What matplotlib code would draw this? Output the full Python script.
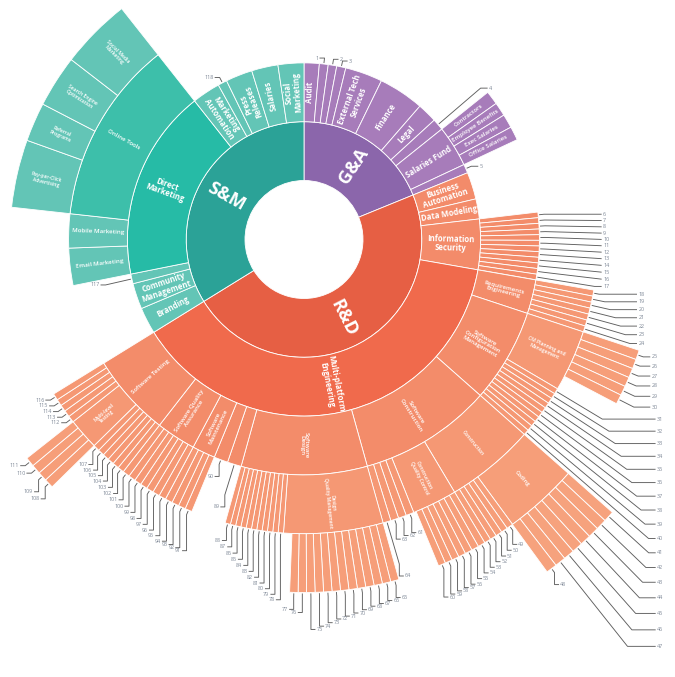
import numpy as np
import matplotlib.pyplot as plt
from matplotlib.patches import Wedge

plt.rcParams['font.family'] = ['Open Sans', 'DejaVu Sans']

# ---- values (angular share, whole circle = 360) ----
top_names = ['G&A', 'R&D', 'S&M']
top_values = [67.8, 170.5, 121.7]

ga_names = ['Audit', '1', '2', '3', 'External Tech\nServices', 'Finance', 'Legal', '4', 'Salaries Fund', '5']
ga_values = [5.0, 2.9, 2.8, 3.0, 12.3, 15.0, 6.5, 3.8, 13.6, 2.9]
salfund_names = ['Contractors', 'Employee Benefits', 'Exec Salaries', 'Office Salaries']
salfund_values = [3.4, 3.4, 3.4, 3.4]

rd_names = ['Business\nAutomation', 'Data Modeling', 'Information\nSecurity', 'Multi-platform\nEngineering']
rd_values = [8.9, 6.6, 16.6, 138.4]
infosec_names = ['6', '7', '8', '9', '10', '11', '12', '13', '14', '15', '16', '17']
infosec_values = [1.38, 1.38, 1.38, 1.38, 1.38, 1.38, 1.38, 1.38, 1.38, 1.38, 1.38, 1.38]

mpe_names = ['Requirements\nEngineering', 'Software\nConfiguration\nManagement', 'Software\nConstruction',
             'Software\nDesign', '89', '90', 'Software\nMaintenance', 'Software Quality\nAssurance',
             'Software Testing']
mpe_values = [8.4, 23.2, 32.9, 31.1, 3.45, 3.45, 5.7, 9.8, 20.4]
reqeng_names = ['18', '19', '20', '21', '22', '23', '24']
reqeng_values = [1.2, 1.2, 1.2, 1.2, 1.2, 1.2, 1.2]

scm_names = ['CM Planning and\nManagement', '31', '32', '33', '34', '35', '36', '37', '38', '39', '40']
scm_values = [12.2, 1.1, 1.1, 1.1, 1.1, 1.1, 1.1, 1.1, 1.1, 1.1, 1.1]
cmplan_names = ['25', '26', '27', '28', '29', '30']
cmplan_values = [1.57, 1.57, 1.57, 1.57, 1.57, 1.57]

swcons_names = ['Construction', 'Construction\nQuality Control', '61', '62', '63', '64']
swcons_values = [17.7, 8.9, 1.58, 1.58, 1.58, 1.58]
cons_names = ['Coding', '49', '50', '51', '52', '53']
cons_values = [12.3, 1.08, 1.08, 1.08, 1.08, 1.08]
coding_names = ['41', '42', '43', '44', '45', '46', '47', '48']
coding_values = [1.54, 1.54, 1.54, 1.54, 1.54, 1.54, 1.54, 1.54]
cqc_names = ['54', '55', '56', '57', '58', '59', '60']
cqc_values = [1.2, 1.2, 1.2, 1.2, 1.2, 1.2, 1.2]

design_names = ['Design\nQuality Management', '78', '79', '80', '81', '82', '83', '84', '85', '86', '87', '88']
design_values = [19.6, 1.05, 1.05, 1.05, 1.05, 1.05, 1.05, 1.05, 1.05, 1.05, 1.05, 1.05]
dqm_names = ['65', '66', '67', '68', '69', '70', '71', '72', '73', '74', '75', '76', '77']
dqm_values = [1.38, 1.38, 1.38, 1.38, 1.38, 1.38, 1.38, 1.38, 1.38, 1.38, 1.38, 1.38, 1.38]

maint_names = ['91', '92', '93', '94']
maint_values = [1.42, 1.42, 1.42, 1.42]
sqa_names = ['95', '96', '97', '98', '99', '100', '101']
sqa_values = [1.4, 1.4, 1.4, 1.4, 1.4, 1.4, 1.4]
testing_names = ['102', '103', '104', '105', '106', '107', 'Multi-level\nTesting', '112', '113', '114', '115', '116']
testing_values = [1.27, 1.27, 1.27, 1.27, 1.27, 1.27, 6.2, 1.32, 1.32, 1.32, 1.32, 1.32]
mlt_names = ['108', '109', '110', '111']
mlt_values = [1.55, 1.55, 1.55, 1.55]

sm_names = ['Branding', 'Community\nManagement', '117', 'Direct\nMarketing', 'Marketing\nAutomation', '118',
            'Press\nReleases', 'Salaries', 'Social\nMarketing']
sm_values = [8.7, 8.5, 3.2, 63.0, 9.3, 3.0, 8.8, 8.7, 8.5]
dm_names = ['Email Marketing', 'Mobile Marketing', 'Online Tools']
dm_values = [9.2, 8.4, 45.4]
online_names = ['Pay-per-Click\nAdvertising', 'Referral\nPrograms', 'Search Engine\nOptimization', 'Social Media\nMarketing']
online_values = [13.4, 7.7, 10.3, 14.0]

tree = {
    'root': (top_names, top_values),
    'G&A': (ga_names, ga_values),
    'Salaries Fund': (salfund_names, salfund_values),
    'R&D': (rd_names, rd_values),
    'Information\nSecurity': (infosec_names, infosec_values),
    'Multi-platform\nEngineering': (mpe_names, mpe_values),
    'Requirements\nEngineering': (reqeng_names, reqeng_values),
    'Software\nConfiguration\nManagement': (scm_names, scm_values),
    'CM Planning and\nManagement': (cmplan_names, cmplan_values),
    'Software\nConstruction': (swcons_names, swcons_values),
    'Construction': (cons_names, cons_values),
    'Coding': (coding_names, coding_values),
    'Construction\nQuality Control': (cqc_names, cqc_values),
    'Software\nDesign': (design_names, design_values),
    'Design\nQuality Management': (dqm_names, dqm_values),
    'Software\nMaintenance': (maint_names, maint_values),
    'Software Quality\nAssurance': (sqa_names, sqa_values),
    'Software Testing': (testing_names, testing_values),
    'Multi-level\nTesting': (mlt_names, mlt_values),
    'S&M': (sm_names, sm_values),
    'Direct\nMarketing': (dm_names, dm_values),
    'Online Tools': (online_names, online_values),
}

# ---- geometry ----
CX, CY = 304, 677 - 239.5
R0, W = 59, 58.8
DEG = 360.0 / sum(top_values)

segs = []  # name, depth, t1, t2, top


def layout(parent, start, depth, top):
    names, values = tree[parent]
    a = start
    for n, v in zip(names, values):
        span = v * DEG
        t = n if depth == 1 else top
        segs.append((n, depth, a - span, a, t))
        if n in tree:
            layout(n, a, depth + 1, t)
        a -= span


layout('root', 90.0, 1, None)


def seg_color(top, depth, name):
    if top == 'G&A':
        return '#8B66AB' if depth == 1 else '#A77CBA'
    if top == 'S&M':
        if depth == 1:
            return '#2BA297'
        if name == 'Direct\nMarketing':
            return '#26BBA6'
        if name == 'Online Tools':
            return '#3DBFAA'
        return '#63C5B6'
    if depth == 1:
        return '#E65F44'
    if name == 'Multi-platform\nEngineering':
        return '#F06A4C'
    return {2: '#F38B6A', 3: '#F38C6A', 4: '#F59874', 5: '#F69E79', 6: '#F6A27D'}[depth]


def text_rot(theta):
    t = theta % 360
    if 115 < t < 268:
        return t - 180
    return t if t <= 180 else t - 360


fig = plt.figure(figsize=(6.75, 6.77), dpi=100)
ax = fig.add_axes([0, 0, 1, 1])
ax.set_xlim(0, 675)
ax.set_ylim(0, 677)
ax.axis('off')

fsize = {1: 13, 2: 5.6, 3: 4.4, 4: 3.6, 5: 4.2}
for name, d, t1, t2, top in segs:
    r_out = R0 + d * W
    ax.add_patch(Wedge((CX, CY), r_out, t1, t2, width=W, facecolor=seg_color(top, d, name),
                       edgecolor='white', linewidth=0.6))
    if not name.isdigit():
        mid = np.radians((t1 + t2) / 2)
        rm = r_out - W / 2
        ax.text(CX + rm * np.cos(mid), CY + rm * np.sin(mid), name, color='white',
                fontsize=fsize[d], fontweight='bold' if d <= 2 else 'semibold',
                rotation=text_rot((t1 + t2) / 2), rotation_mode='anchor',
                ha='center', va='center', linespacing=1.0)

# ---- leader lines for the numbered slices ----
LINE_C, NUM_C, FS_NUM, TH = '#5E5E5E', '#7D8796', 3.9, 5.4


def occupied(phi):
    best = R0
    for name, d, t1, t2, top in segs:
        if (phi - t1) % 360 <= (t2 - t1):
            best = max(best, R0 + d * W)
    return best


def inside(x, y, pad=1.5):
    return np.hypot(x - CX, y - CY) < occupied(np.degrees(np.arctan2(y - CY, x - CX))) + pad


def wedge_free(box):
    pts = [(box[0], box[1]), (box[0], box[3]), (box[2], box[1]), (box[2], box[3]),
           ((box[0] + box[2]) / 2, (box[1] + box[3]) / 2)]
    return not any(inside(x, y, 2) for x, y in pts)


def overlap(a, b):
    return not (a[2] < b[0] or a[0] > b[2] or a[3] < b[1] or a[1] > b[3])


def tw(s):
    return 2.8 * len(s) + 1.0


def draw_leader(xs, ys, name, lx, ly, ha):
    ax.plot(xs, ys, color=LINE_C, linewidth=0.65, solid_capstyle='butt')
    ax.text(lx, ly, name, fontsize=FS_NUM, color=NUM_C, ha=ha, va='center')


leaves = []
for name, d, t1, t2, top in segs:
    if name.isdigit():
        mid = (t1 + t2) / 2
        leaves.append(dict(name=name, d=d, t1=t1, t2=t2, mid=mid, ro=R0 + d * W,
                           c=np.cos(np.radians(mid)), s=np.sin(np.radians(mid))))
leaves.sort(key=lambda L: (90 - L['mid']) % 360)


def mode_of(L):
    m = L['mid'] % 360
    if m >= 307.5 or m < 60:
        return 'col'
    if 222 <= m < 307.5:
        return 'drop'
    return 'tick'


# clusters: adjacent slices of the same ring and the same label mode
clusters = []
for L in leaves:
    L['mode'] = mode_of(L)
    if clusters:
        P = clusters[-1][-1]
        if P['mode'] == L['mode'] and P['d'] == L['d'] and abs(P['t1'] - L['t2']) < 0.3:
            clusters[-1].append(L)
            continue
    clusters.append([L])

placed = []
prev_y, prev_col, prev_last = None, None, None
for cl in clusters:
    mode = cl[0]['mode']
    if mode == 'col':
        pts = []
        for L in cl:
            c, s, ro = L['c'], L['s'], L['ro']
            gap = 6.3 + 14 * max(0.0, -s) ** 1.5   # labels spread more further down
            ext = 6
            while True:
                ex, ey = CX + (ro + ext) * c, CY + (ro + ext) * s
                ly = ey
                if prev_y is not None and ly > prev_y - gap:
                    if s < -0.15 and ext < 260:
                        ext += 1.0
                        continue
                    ly = prev_y - gap
                box = (ex + 7, ly - TH / 2, ex + 7 + tw(L['name']), ly + TH / 2)
                if wedge_free(box) or ext > 260:
                    break
                ext += 2
            pts.append((L, ex, ey, ly))
            prev_y = ly
        col = max(p[1] for p in pts) + 7
        if prev_col is not None and prev_last - pts[0][3] < 25:
            col = max(col, prev_col)
        for L, ex, ey, ly in pts:
            x0, y0 = CX + (L['ro'] + 1) * L['c'], CY + (L['ro'] + 1) * L['s']
            draw_leader([x0, ex, col], [y0, ey, ly], L['name'], col + 1.5, ly, 'left')
            placed.append((col, ly - TH / 2, col + tw(L['name']), ly + TH / 2))
        prev_col, prev_last = col, pts[-1][3]
    elif mode == 'drop':
        right = [L for L in cl if L['c'] > 0]
        left = [L for L in cl if L['c'] <= 0][::-1]
        for part in (right, left):
            own_lines = []
            for L in part:
                side = 1 if L['c'] > 0 else -1
                r1 = L['ro'] + 5
                # go out radially until the vertical drop is clear of every ring
                while r1 < L['ro'] + 150:
                    x1, y1 = CX + r1 * L['c'], CY + r1 * L['s']
                    if not any(inside(x1, y1 - k, 1.0) for k in range(0, 32, 3)):
                        break
                    r1 += 3
                x1, y1 = CX + r1 * L['c'], CY + r1 * L['s']
                w = tw(L['name'])
                drop = 12
                while True:
                    ly = y1 - drop
                    tx = x1 + side * 5
                    box = (tx, ly - TH / 2, tx + w, ly + TH / 2) if side > 0 else (tx - w, ly - TH / 2, tx, ly + TH / 2)
                    ok = (all(not overlap(box, b) for b in placed) and
                          all(not overlap(box, b) for b in own_lines) and wedge_free(box))
                    if ok or drop > 260:
                        break
                    drop += 1.0
                placed.append(box)
                own_lines.append((x1 - 0.4, ly, x1 + 0.4, y1))
                x0, y0 = CX + (L['ro'] + 1) * L['c'], CY + (L['ro'] + 1) * L['s']
                draw_leader([x0, x1, x1, x1 + side * 4.5], [y0, y1, ly, ly], L['name'],
                            x1 + side * 5.5, ly, 'left' if side > 0 else 'right')
    else:
        for L in cl:
            c, s, ro = L['c'], L['s'], L['ro']
            side = -1 if c < 0.15 else 1
            w = tw(L['name'])
            ext = 6
            while True:
                ex, ey = CX + (ro + ext) * c, CY + (ro + ext) * s
                tx = ex + side * 6
                box = (tx, ey - TH / 2, tx + w, ey + TH / 2) if side > 0 else (tx - w, ey - TH / 2, tx, ey + TH / 2)
                if (all(not overlap(box, b) for b in placed) and wedge_free(box)) or ext > 220:
                    break
                ext += 1.5
            placed.append(box)
            x0, y0 = CX + (ro + 1) * c, CY + (ro + 1) * s
            draw_leader([x0, ex, ex + side * 5], [y0, ey, ey], L['name'],
                        ex + side * 6, ey, 'left' if side > 0 else 'right')

fig.savefig('out.png', dpi=100)
